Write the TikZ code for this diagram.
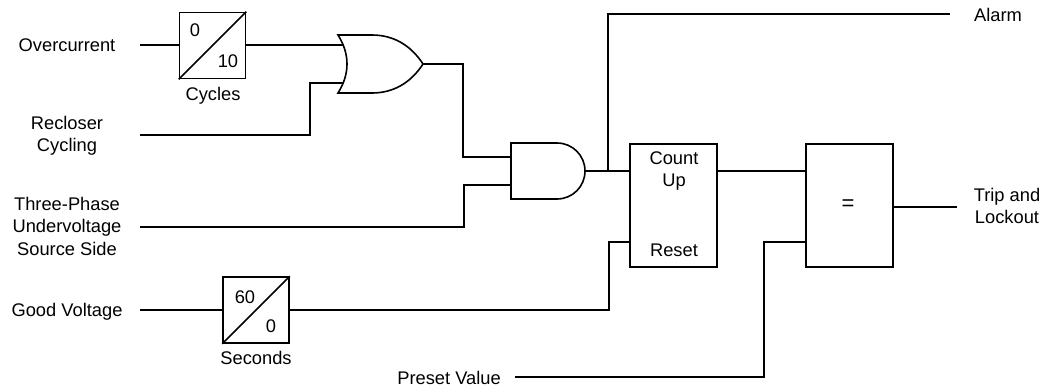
\documentclass[tikz,border=0pt]{standalone}
\usepackage{fontspec}
\setmainfont{Liberation Sans}
\usetikzlibrary{calc}
\begin{document}
\begin{tikzpicture}[x=1pt,y=-1pt,
  wire/.style={line width=1.6pt, line join=miter},
  lbl/.style={font=\fontsize{18.3}{22.5}\selectfont, inner sep=0pt, align=center},
  timerbox/.style={draw, line width=1.6pt, minimum width=66pt, minimum height=66pt, inner sep=0pt},
  blockbox/.style={draw, line width=1.6pt, minimum width=87pt, minimum height=123pt, inner sep=0pt}]
\useasboundingbox (0,0) rectangle (1044,389);
% labels
\node[lbl] (ov) at (67,45) {Overcurrent};
\node[lbl] (rc) at (67,136) {Recloser\\Cycling};
\node[lbl] (uv) at (67,226) {Three-Phase\\Undervoltage\\Source Side};
\node[lbl] (gv) at (67,311.5) {Good Voltage};
\node[lbl] (pv) at (449,378) {Preset Value};
\node[lbl] (al) at (998,15) {Alarm};
\node[lbl] (tl) at (1007,206) {Trip and\\Lockout};
\coordinate (ovin) at (140,45);
\coordinate (rcin) at (140,135);
\coordinate (uvin) at (140,227);
\coordinate (gvin) at (140,310);
\coordinate (pvin) at (515,377);
\coordinate (alin) at (950,14);
\coordinate (tlin) at (957,207);
% timer 1
\node[timerbox] (t1) at (212.5,45.5) {};
\draw[wire] (t1.south west) -- (t1.north east);
\node[lbl] (t1a) at (195,30) {0};
\node[lbl] (t1b) at (228,61) {10};
\node[lbl] (t1c) at (213,96) {Cycles};
% timer 2
\node[timerbox] (t2) at (256,310) {};
\draw[wire] (t2.south west) -- (t2.north east);
\node[lbl] (t2a) at (245,297) {60};
\node[lbl] (t2b) at (271,326) {0};
\node[lbl] (t2c) at (256,358) {Seconds};
% OR gate
\draw[wire] (338,35) -- (372,35) .. controls (398,35) and (414,50) .. (423,64)
  .. controls (414,78) and (398,93) .. (372,93) -- (338,93)
  .. controls (350,74) and (350,54) .. (338,35) -- cycle;
\coordinate (or1) at (343.5,45);
\coordinate (or2) at (343.5,83);
\coordinate (orout) at (423,64);
% AND gate
\draw[wire] (511,143) -- (557,143) .. controls (572.5,143) and (585,155.5) .. (585,171)
  .. controls (585,186.5) and (572.5,199) .. (557,199) -- (511,199) -- cycle;
\coordinate (and1) at (511,157);
\coordinate (and2) at (511,185);
\coordinate (andout) at (585,171);
% blocks
\node[blockbox] (cnt) at (673.5,205.5) {};
\node[lbl] (cnta) at (674,171) {Count\\Up};
\node[lbl] (cntb) at (674,250) {Reset};
\node[blockbox] (eq) at (849.5,205.5) {};
\node[lbl, font=\fontsize{22}{24}\selectfont] (eqa) at (848,205) {=};
\coordinate (cntin) at (630,171);
\coordinate (cntR) at (630,242);
\coordinate (cntout) at (717,171);
\coordinate (eqin) at (806,171);
\coordinate (eqR) at (806,242);
\coordinate (eqout) at (893,207);
\coordinate (junc) at (608,171);
% wires
\draw[wire] (ovin) -- (t1.west |- ovin);
\draw[wire] (t1.east |- or1) -- (or1);
\draw[wire] (rcin) -| ($(or2)+(-33.5,0)$) -- (or2);
\draw[wire] (orout) -- ++(40,0) |- (and1);
\draw[wire] (uvin) -| ($(and2)+(-47,0)$) -- (and2);
\draw[wire] (andout) -- (cntin);
\draw[wire] (junc) |- (alin);
\draw[wire] (gvin) -- (t2.west);
\draw[wire] (t2.east) -| ($(cntR)+(-21,0)$) -- (cntR);
\draw[wire] (cntout) -- (eqin);
\draw[wire] (pvin) -| ($(eqR)+(-42,0)$) -- (eqR);
\draw[wire] (eqout) -- (tlin);
\end{tikzpicture}
\end{document}
